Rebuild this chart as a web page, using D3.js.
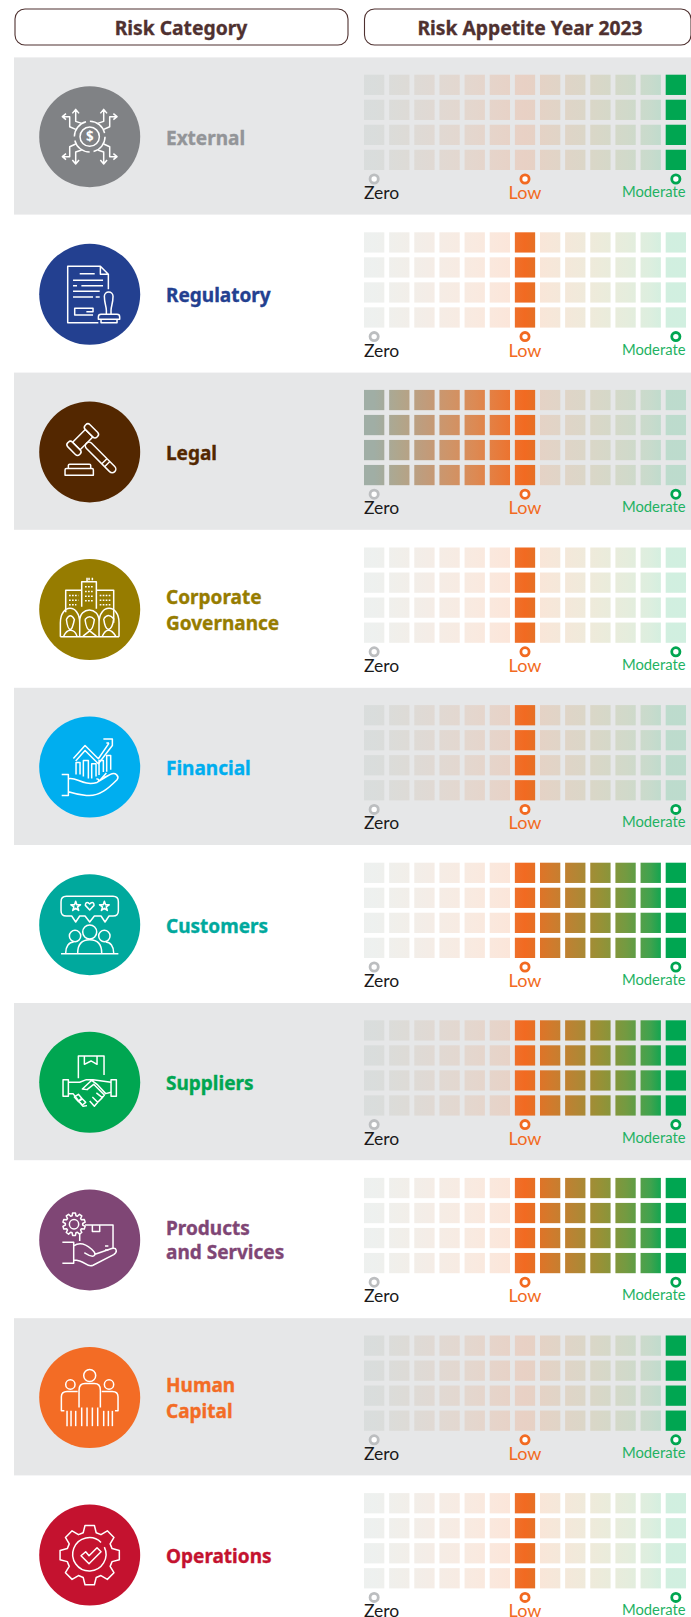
<!DOCTYPE html>
<html>
<head>
<meta charset="utf-8">
<script src="https://cdn.jsdelivr.net/npm/d3@7"></script>
<style>
  html, body { margin: 0; padding: 0; background: #fff; overflow: hidden; }
  svg { display: block; }
  text { font-family: "Noto Sans", sans-serif; }
  text.tick-label { font-family: Lato, sans-serif; }
</style>
</head>
<body>
<svg></svg>
<script>
// chart data
let categories = ["External", "Regulatory", "Legal", "Corporate Governance", "Financial", "Customers", "Suppliers", "Products and Services", "Human Capital", "Operations"]
let labelLines = [["External"], ["Regulatory"], ["Legal"], ["Corporate", "Governance"], ["Financial"], ["Customers"], ["Suppliers"], ["Products", "and Services"], ["Human", "Capital"], ["Operations"]]
let rangeFrom = [12, 6, 0, 6, 6, 6, 6, 6, 12, 6]
let rangeTo = [12, 6, 6, 6, 6, 12, 12, 12, 12, 6]
let categoryColors = ["#808285", "#234090", "#532700", "#967c00", "#00aeef", "#00a99d", "#00a651", "#7f4675", "#f36c25", "#c4122f"]
let labelColors = ["#939598", "#234090", "#532700", "#967c00", "#00aeef", "#00a99d", "#00a651", "#7f4675", "#f36c25", "#c4122f"]
let levels = d3.range(13)
let stacks = d3.range(4)
let tickLevels = [0, 6, 12]
let tickLabels = ["Zero", "Low", "Moderate"]
let tickColors = ["#bcbec0", "#f26a21", "#00a651"]
let tickTextColors = ["#1a1a1a", "#f26a21", "#1fb263"]
let headers = ["Risk Category", "Risk Appetite Year 2023"]
// colour read at the middle of each column, zero side then moderate side
let levelColors = ["#a0aea5", "#b0a68c", "#c09c7c", "#cf9468", "#dc8a54", "#e87a3a", "#f26a21", "#d27a2c", "#b58534", "#979136", "#749a41", "#3fa34e", "#00a651"]

let width = 691
let height = 1617
let rowPitch = 157.6
let dimOpacity = 0.18

let svg = d3.select("svg").attr("width", width).attr("height", height)

// scales
let rowScale = d3.scaleLinear().domain([0, 9]).range([57, 57 + 9 * rowPitch])
let xScale = d3.scaleBand().domain(levels).range([364, 686]).paddingInner(0.192)
let yScale = d3.scaleBand().domain(stacks).range([0, 95.3]).paddingInner(0.19)
let levelX = (l) => xScale(l) + xScale.bandwidth() / 2

// gradient is shared by every row, zero grey -> low orange -> moderate green
let gridStart = xScale(0)
let gridEnd = xScale(12) + xScale.bandwidth()
let gradient = svg.append("defs").append("linearGradient")
    .attr("id", "appetite")
    .attr("gradientUnits", "userSpaceOnUse")
    .attr("x1", gridStart).attr("x2", gridEnd)
    .attr("y1", 0).attr("y2", 0)
let stopAt = (x) => (x - gridStart) / (gridEnd - gridStart)
gradient.selectAll("stop")
    .data(levels)
    .enter().append("stop")
    .attr("offset", (d) => stopAt(d == 12 ? xScale(12) : levelX(d)))
    .attr("stop-color", (d) => levelColors[d])

// headers
let headerBoxes = [[15, 348], [364.5, 691]]
headers.forEach((h, i) => {
    svg.append("rect")
        .attr("x", headerBoxes[i][0]).attr("y", 9)
        .attr("width", headerBoxes[i][1] - headerBoxes[i][0]).attr("height", 36)
        .attr("rx", 10)
        .attr("fill", "#fff").attr("stroke", "#4f3130").attr("stroke-width", 1.1)
})
svg.append("text").attr("x", 181).attr("y", 35).attr("text-anchor", "middle").attr("font-size", 19.3).attr("font-weight", 700).attr("fill", "#4f3130").attr("stroke", "#4f3130").attr("stroke-width", 0.3).text(headers[0])
svg.append("text").attr("x", 530).attr("y", 35).attr("text-anchor", "middle").attr("font-size", 19.3).attr("font-weight", 700).attr("fill", "#4f3130").attr("stroke", "#4f3130").attr("stroke-width", 0.3).text(headers[1])

// gear outline used by two of the icons
let gearPath = (rOut, rIn, teeth) => {
    let p = d3.path()
    let step = 2 * Math.PI / teeth
    d3.range(teeth).forEach((t) => {
        let a = t * step - Math.PI / 2
        let pts = [[rIn, a - step * 0.36], [rOut, a - step * 0.2], [rOut, a + step * 0.2], [rIn, a + step * 0.36]]
        pts.forEach((q, k) => {
            let x = q[0] * Math.cos(q[1])
            let y = q[0] * Math.sin(q[1])
            if (t == 0 && k == 0) p.moveTo(x, y)
            else p.lineTo(x, y)
        })
    })
    p.closePath()
    return p.toString()
}

// icons, drawn in 3x units around the circle centre
let iconDrawers = [
    (g) => {
        [[1, 1], [-1, 1], [1, -1], [-1, -1]].forEach((m) => {
            g.append("path").attr("transform", `scale(${m[0]},${m[1]})`)
                .attr("d", "M-24,-40 L-42,-46 V-80 M-52,-70 L-42,-82 L-32,-70 M-42,-22 L-60,-30 V-60 H-80 M-71,-69 L-82,-60 L-71,-51")
        })
        g.append("circle").attr("r", 46).attr("stroke-dasharray", "60 12")
        g.append("circle").attr("r", 29)
        g.append("text").attr("y", 14).attr("text-anchor", "middle").attr("font-size", 40).attr("font-weight", 700).attr("fill", "#fff").attr("stroke", "none").text("$")
    },
    (g) => {
        g.append("path").attr("d", "M26,85 H-66 V-84 H32 L56,-60 V-15 M32,-84 V-60 H56")
        g.append("path").attr("d", "M-30,-62 H15 M-50,-42 H40 M-50,-26 H-38 M-25,-26 H40 M-50,-9 H30 M-50,8 H10 M18,8 H30")
        g.append("path").attr("d", "M10,62 H-45 V42 H10 V52 H-10")
        g.append("path").attr("d", "M50,60 V48 C50,35 44,28 44,6 A12,12 0 0 1 70,6 C70,28 64,35 64,48 V60 M26,75 V68 Q26,60 34,60 H82 Q90,60 90,68 V75 Z M34,75 V85 H82 V75")
    },
    (g) => {
        let head = g.append("g").attr("transform", "translate(-21,-37) rotate(-45)")
        head.append("rect").attr("x", -27).attr("y", -16).attr("width", 54).attr("height", 32)
        head.append("rect").attr("x", -47).attr("y", -25).attr("width", 20).attr("height", 50).attr("rx", 9)
        head.append("rect").attr("x", 27).attr("y", -25).attr("width", 20).attr("height", 50).attr("rx", 9)
        head.append("rect").attr("x", -11).attr("y", 16).attr("width", 22).attr("height", 120).attr("rx", 11)
        head.append("path").attr("d", "M-11,92 H11 M-11,104 H11")
        g.append("path").attr("d", "M-64,50 V40 Q-64,37 -60,37 H-1 Q3,37 3,40 V50 M-74,70 V54 Q-74,50 -70,50 H7 Q11,50 11,54 V70 Z")
    },
    (g) => {
        g.append("path").attr("d", "M-72,8 V-58 H-24 V-8 M-24,-58 V-83 H20 V-2 M20,-58 H72 V40 M-8,-83 V-95 M-2,-88 V-95 M8,-88 V-95")
        g.append("path").attr("stroke-dasharray", "5 4").attr("d", "M-62,-42 H-34 M-62,-28 H-34 M-62,-14 H-40 M-14,-68 H10 M-14,-54 H10 M-14,-40 H10 M-14,-26 H10 M30,-42 H62 M30,-28 H62 M30,-14 H62")
        g.append("path").attr("d", "M-88,82 V40 C-88,-18 -30,-18 -30,40 V82 M-30,82 V35 C-30,-10 28,-10 28,35 V82 M28,82 V40 C28,-18 88,-18 88,40 V82 M-88,82 H88")
        g.append("path").attr("d", "M-70,30 Q-58,8 -46,30 Q-52,60 -58,60 Q-66,60 -70,30 M-14,30 Q0,14 14,30 Q10,60 0,62 Q-10,60 -14,30 M42,28 Q56,8 72,28 Q68,58 56,60 Q46,58 42,28 M-78,80 Q-70,62 -58,62 Q-44,62 -38,80 M-20,80 L0,64 L20,80 M38,80 Q46,62 56,62 Q68,62 78,80")
    },
    (g) => {
        g.append("path").attr("d", "M-49,-26 L-14,-65 L26,-25 L58,-72 M-42,-18 L-14,-50 L26,-10 L68,-65 V-84 H41 M50,-72 H58")
        g.append("path").attr("d", "M-41,22 V-14 H-29 V22 M-19,28 V-20 H-4 V34 M6,34 V-10 H19 V28 M28,24 V-20 H41 V15 M51,14 V-35 H63 V8")
        g.append("path").attr("d", "M-84,22 H-64 V85 H-84 M-64,35 C-40,28 -20,58 22,46 L62,22 C78,14 90,28 82,38 C60,60 30,90 -10,85 Q-40,82 -64,74 M22,46 C30,42 28,34 20,36 M30,40 L50,18 M42,32 L62,22")
    },
    (g) => {
        g.append("path").attr("d", "M-70,-85 H70 Q86,-85 86,-69 V-42 Q86,-26 70,-26 H58 L46,-8 L34,-26 H14 L0,-8 L-14,-26 H-30 L-42,-8 L-54,-26 H-70 Q-86,-26 -86,-42 V-69 Q-86,-85 -70,-85 Z")
        ;[[-42, -55], [44, -55]].forEach((c) => {
            g.append("path").attr("transform", `translate(${c[0]},${c[1]})`)
                .attr("d", d3.symbol(d3.symbolStar, 260)())
        })
        g.append("path").attr("d", "M0,-44 L-13,-58 Q-13,-68 -5,-66 L0,-62 L5,-66 Q13,-68 13,-58 Z")
        g.append("circle").attr("cy", 22).attr("r", 21)
        g.append("circle").attr("cx", -44).attr("cy", 34).attr("r", 17)
        g.append("circle").attr("cx", 44).attr("cy", 34).attr("r", 17)
        g.append("path").attr("d", "M-86,87 H86 M-36,85 C-36,55 -20,45 0,45 C20,45 36,55 36,85 M-72,85 C-72,65 -62,52 -48,52 M72,85 C72,65 62,52 48,52")
    },
    (g) => {
        g.append("path").attr("d", "M-34,-12 V-79 H43 V-22 M-16,-79 V-54 L4,-64 L22,-54 V-79")
        g.append("path").attr("d", "M-64,-8 H-80 V42 H-64 Z M64,-8 H80 V42 H64 Z")
        g.append("path").attr("d", "M-64,0 H-30 L-10,-8 H10 L64,0 M64,30 L48,34 L22,6 L6,-6 L-22,20 L-8,22 L12,6 L44,38 L38,46 L20,32 M38,46 L24,60 L8,44 M24,60 L14,72 L0,56 M-64,34 H-50 L-30,60 L-20,72 L-8,70")
        g.append("path").attr("d", "M-46,44 l12,-8 l12,14 l-12,8 z M-34,56 l10,-8 l12,12 l-10,8 z")
    },
    (g) => {
        g.append("path").attr("transform", "translate(-47,-47)").attr("d", gearPath(34, 26, 10))
        g.append("circle").attr("cx", -47).attr("cy", -47).attr("r", 14)
        g.append("path").attr("d", "M-14,-45 H70 V25 M8,-45 V-25 H30 V-45 M-30,-18 V3 M46,18 H56 M46,30 H56")
        g.append("path").attr("d", "M-82,7 H-48 V70 H-82 M-48,18 C-30,5 -12,12 6,28 C14,36 20,42 12,48 C4,52 -6,44 -16,38 M14,44 L66,26 C82,22 84,36 72,44 L10,76 Q0,80 -12,72 Q-30,60 -48,60")
    },
    (g) => {
        g.append("circle").attr("cy", -66).attr("r", 18)
        g.append("circle").attr("cx", -58).attr("cy", -39).attr("r", 14)
        g.append("circle").attr("cx", 58).attr("cy", -39).attr("r", 14)
        g.append("path").attr("d", "M-32,30 V-22 Q-32,-42 -14,-42 H14 Q32,-42 32,-22 V30 M-36,-18 H-68 Q-85,-18 -85,-2 V40 H-76 M36,-18 H68 Q85,-18 85,-2 V40 H76")
        let bars = [-68, -56, -42, -24, -8, 8, 24, 42, 56, 68]
        g.selectAll("line.bar").data(bars).enter().append("line").attr("class", "bar")
            .attr("x1", (d) => d).attr("x2", (d) => d)
            .attr("y1", (d) => Math.abs(d) < 30 ? 30 : 40).attr("y2", 86)
    },
    (g) => {
        g.append("path").attr("d", gearPath(90, 70, 8))
        g.append("path").attr("d", "M34,-38 A50,50 0 1 0 44,-24")
        g.append("path").attr("d", "M-26,2 L-12,-10 L-2,2 L22,-22 L34,-10 L-2,26 Z")
    }
]

// rows
categories.forEach((category, i) => {
    let top = rowScale(i)
    let row = svg.append("g").attr("class", "row").attr("transform", `translate(0,${top})`)

    if (i % 2 == 0) {
        row.append("rect").attr("x", 14).attr("y", 0.4)
            .attr("width", width - 14).attr("height", 157.2)
            .attr("fill", "#e6e7e8")
    }

    // circle and icon
    row.append("circle").attr("cx", 89.7).attr("cy", 79.7).attr("r", 50.5).attr("fill", categoryColors[i])
    let icon = row.append("g")
        .attr("transform", "translate(89.7,79.7) scale(0.3333)")
        .attr("fill", "none").attr("stroke", "#fff").attr("stroke-width", 4.5)
        .attr("stroke-linejoin", "round")
    iconDrawers[i](icon)

    // label
    let lines = labelLines[i]
    let gap = category == "Products and Services" ? 24 : 26
    let firstY = lines.length == 1 ? 87.5 : 74.5
    row.selectAll("text.label").data(lines).enter().append("text")
        .attr("class", "label")
        .attr("x", 166)
        .attr("y", (d, k) => firstY + k * gap)
        .attr("font-size", 19).attr("font-weight", 700)
        .attr("fill", labelColors[i])
        .attr("stroke", labelColors[i]).attr("stroke-width", 0.35)
        .text((d) => d)

    // cells
    let grid = row.append("g").attr("transform", "translate(0,17.7)")
    stacks.forEach((s) => {
        grid.selectAll("rect.s" + s).data(levels).enter().append("rect")
            .attr("class", "cell s" + s)
            .attr("x", (d) => xScale(d))
            .attr("y", yScale(s))
            .attr("width", xScale.bandwidth())
            .attr("height", yScale.bandwidth())
            .attr("fill", "url(#appetite)")
            .attr("opacity", (d) => d >= rangeFrom[i] && d <= rangeTo[i] ? 1 : dimOpacity)
    })

    // zero / low / moderate markers
    row.selectAll("circle.tick").data(tickLevels).enter().append("circle")
        .attr("class", "tick")
        .attr("cx", (d) => levelX(d))
        .attr("cy", 122)
        .attr("r", 4.1)
        .attr("fill", "#fff")
        .attr("stroke", (d, k) => tickColors[k])
        .attr("stroke-width", 2.8)
    row.append("text").attr("class", "tick-label").attr("x", xScale(0)).attr("y", 142).attr("font-size", 17.5).attr("fill", tickTextColors[0]).text(tickLabels[0])
    row.append("text").attr("class", "tick-label").attr("x", levelX(6)).attr("y", 142).attr("text-anchor", "middle").attr("font-size", 18).attr("fill", tickTextColors[1]).text(tickLabels[1])
    row.append("text").attr("class", "tick-label").attr("x", gridEnd - 0.5).attr("y", 140).attr("text-anchor", "end").attr("font-size", 14.8).attr("fill", tickTextColors[2]).text(tickLabels[2])
})
</script>
</body>
</html>
